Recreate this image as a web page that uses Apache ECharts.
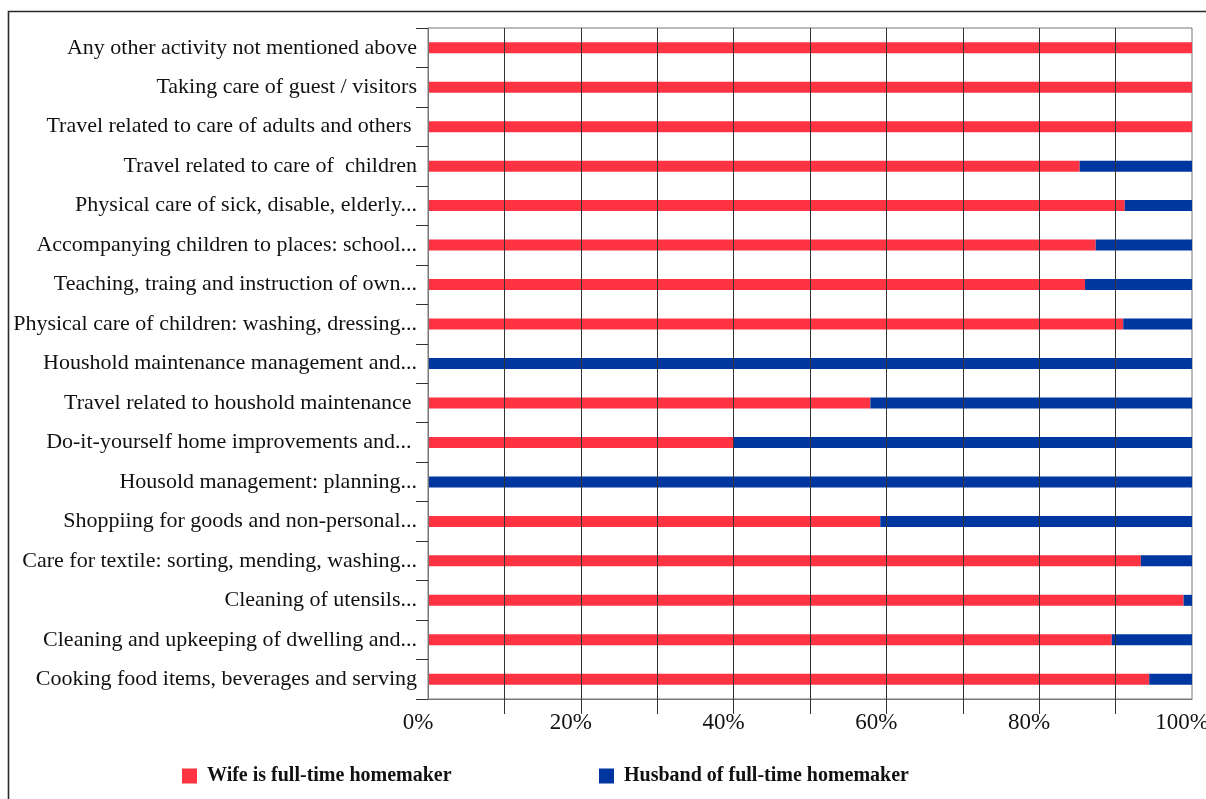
<!DOCTYPE html>
<html>
<head>
<meta charset="utf-8">
<script src="https://cdn.jsdelivr.net/npm/echarts@6/dist/echarts.min.js"></script>
<style>
  html, body { margin: 0; padding: 0; background: #fff; }
  #chart { width: 1206px; height: 799px; }
</style>
</head>
<body>
<div id="chart"></div>
<script>
// Activities, listed bottom to top along the category axis
const activities = [
  'Cooking food items, beverages and serving',
  'Cleaning and upkeeping of dwelling and...',
  'Cleaning of utensils...',
  'Care for textile: sorting, mending, washing...',
  'Shoppiing for goods and non-personal...',
  'Housold management: planning...',
  'Do-it-yourself home improvements and... ',
  'Travel related to houshold maintenance ',
  'Houshold maintenance management and...',
  'Physical care of children: washing, dressing...',
  'Teaching, traing and instruction of own...',
  'Accompanying children to places: school...',
  'Physical care of sick, disable, elderly...',
  'Travel related to care of  children',
  'Travel related to care of adults and others ',
  'Taking care of guest / visitors',
  'Any other activity not mentioned above'
];

// Share of time (%) by who does the activity
const wifeShare = [94.4, 89.5, 98.9, 93.3, 59.2, 0, 40.0, 57.9, 0, 91.0, 86.0, 87.4, 91.2, 85.3, 100, 100, 100];
const husbandShare = [5.6, 10.5, 1.1, 6.7, 40.8, 100, 60.0, 42.1, 100, 9.0, 14.0, 12.6, 8.8, 14.7, 0, 0, 0];

// Percentage axis: labelled values and inner tick marks
const xLabelValues = [0, 20, 40, 60, 80, 100];
const xTickValues = [10, 20, 30, 40, 50, 60, 70, 80, 90];

const seriesNames = ['Wife is full-time homemaker', 'Husband of full-time homemaker'];
const seriesColors = ['#FF3341', '#0036A0'];

const serif = '"Liberation Serif", "DejaVu Serif", serif';

const chart = echarts.init(document.getElementById('chart'), null, { renderer: 'canvas' });

const legendText = { fontFamily: serif, fontSize: 20, fontWeight: 'bold', color: '#111', padding: [0, 0, 0, 5] };

chart.setOption({
  animation: false,
  backgroundColor: '#ffffff',
  textStyle: { fontFamily: serif, color: '#111' },
  graphic: [{
    type: 'rect',
    shape: { x: 8.5, y: 11.5, width: 1220, height: 820 },
    style: { fill: 'none', stroke: '#2a2a2a', lineWidth: 1.6 },
    silent: true
  }],
  grid: {
    left: 428, right: 14, top: 28, bottom: 100,
    outerBoundsMode: 'none',
    show: true, borderColor: '#777', borderWidth: 1, backgroundColor: 'transparent'
  },
  legend: [
    {
      data: [seriesNames[0]], left: 182, top: 766, padding: 0,
      itemWidth: 15, itemHeight: 15, icon: 'rect', textStyle: legendText
    },
    {
      data: [seriesNames[1]], left: 599, top: 766, padding: 0,
      itemWidth: 15, itemHeight: 15, icon: 'rect', textStyle: legendText
    }
  ],
  xAxis: {
    type: 'value', min: 0, max: 100, interval: 10, z: 5,
    axisLine: { show: true, lineStyle: { color: '#777', width: 1 } },
    axisTick: { show: true, length: 15, customValues: xTickValues, lineStyle: { color: '#333', width: 1 } },
    splitLine: { show: true, lineStyle: { color: '#333', width: 1 } },
    axisLabel: {
      fontFamily: serif, fontSize: 23, color: '#111', margin: 12,
      padding: [0, 20, 0, 0],
      customValues: xLabelValues,
      formatter: v => v + '%'
    }
  },
  yAxis: {
    type: 'category', data: activities, z: 5,
    axisLine: { show: true, lineStyle: { color: '#777', width: 1 } },
    axisTick: { show: true, length: 12, lineStyle: { color: '#333', width: 1 } },
    splitLine: { show: false },
    axisLabel: { fontFamily: serif, fontSize: 22, color: '#111', margin: 11 }
  },
  series: [
    {
      name: seriesNames[0], type: 'bar', stack: 'share', data: wifeShare,
      barWidth: 11, itemStyle: { color: seriesColors[0] }
    },
    {
      name: seriesNames[1], type: 'bar', stack: 'share', data: husbandShare,
      barWidth: 11, itemStyle: { color: seriesColors[1] }
    }
  ]
});
</script>
</body>
</html>
